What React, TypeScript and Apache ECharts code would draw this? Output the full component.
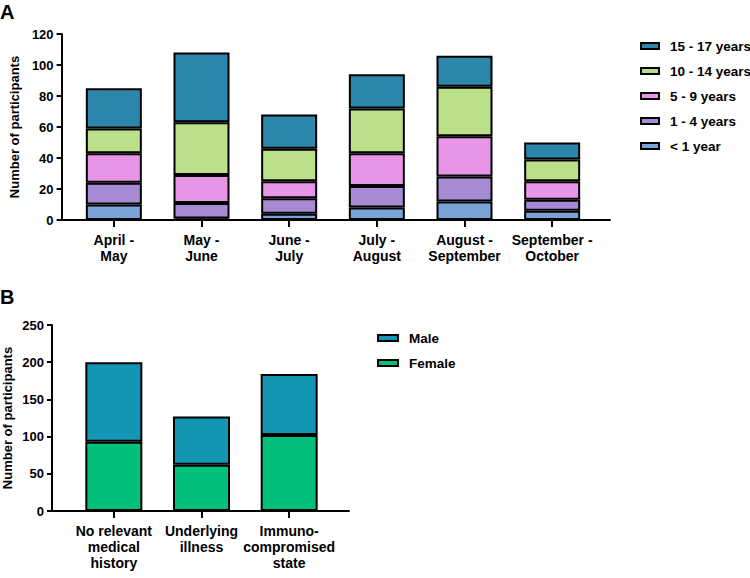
import React, { useEffect, useRef } from "react";
import * as echarts from "echarts";

const periods = ["April -\nMay", "May -\nJune", "June -\nJuly", "July -\nAugust", "August -\nSeptember", "September -\nOctober"];
const ageGroups = ["< 1 year", "1 - 4 years", "5 - 9 years", "10 - 14 years", "15 - 17 years"];
const under1 = [10, 1, 4, 8, 12, 6];
const age1to4 = [14, 10, 10, 14, 16, 7];
const age5to9 = [19, 18, 11, 21, 26, 12];
const age10to14 = [16, 34, 21, 29, 32, 14];
const age15to17 = [26, 45, 22, 22, 20, 11];
const ageColors = ["#7aa3d8", "#a68ad3", "#e895e8", "#bcdf8a", "#2d87ab"];

const histories = ["No relevant\nmedical\nhistory", "Underlying\nillness", "Immuno-\ncompromised\nstate"];
const female = [93, 62, 102];
const male = [107, 65, 82];
const sexColors = { Female: "#02c07a", Male: "#1596b4" };

const yTicksA = [0, 20, 40, 60, 80, 100, 120];
const yTicksB = [0, 50, 100, 150, 200, 250];

const FONT = "Liberation Sans, Arial, sans-serif";

export default function App() {
  const ref = useRef<HTMLDivElement>(null);
  useEffect(() => {
    if (!ref.current) return;
    const chart = echarts.init(ref.current, null, { renderer: "svg" });
    const ageData = [under1, age1to4, age5to9, age10to14, age15to17];
    const axisLineStyle = { color: "#000", width: 2 };
    const labelStyle = { color: "#000", fontWeight: "bold" as const, fontSize: 13, fontFamily: FONT };

    // data grids: 0 (A), 1 (B); frame grids: 2 (A), 3 (B)
    const catX = (gridIndex: number, cats: string[]) => ({
      type: "category",
      gridIndex,
      data: cats,
      axisLine: { show: false },
      axisTick: { show: true, alignWithLabel: true, length: 7, lineStyle: axisLineStyle },
      axisLabel: { ...labelStyle, fontSize: 14, margin: 12, lineHeight: 16, interval: 0 },
    });
    const hiddenY = (gridIndex: number, ticks: number[]) => ({
      type: "value",
      gridIndex,
      show: false,
      min: ticks[0],
      max: ticks[ticks.length - 1],
      interval: ticks[1] - ticks[0],
    });
    const frameX = (gridIndex: number) => ({
      type: "value",
      gridIndex,
      min: 0,
      max: 1,
      splitLine: { show: false },
      axisLine: { show: true, onZero: false, lineStyle: axisLineStyle },
      axisTick: { show: false },
      axisLabel: { show: false },
    });
    const frameY = (gridIndex: number, ticks: number[]) => ({
      type: "value",
      gridIndex,
      min: ticks[0],
      max: ticks[ticks.length - 1],
      interval: ticks[1] - ticks[0],
      name: "Number of participants",
      nameLocation: "middle",
      nameGap: 38,
      nameTextStyle: { ...labelStyle },
      splitLine: { show: false },
      axisLine: { show: true, onZero: false, lineStyle: axisLineStyle },
      axisTick: { show: true, length: 5, lineStyle: axisLineStyle },
      axisLabel: { ...labelStyle, margin: 8 },
    });
    const barBorder = { borderColor: "#000", borderWidth: 2 };
    const seriesA = ageGroups.map((name, s) => ({
      name,
      type: "bar",
      stack: "age",
      xAxisIndex: 0,
      yAxisIndex: 0,
      barWidth: 56,
      itemStyle: { color: ageColors[s], ...barBorder },
      data: ageData[s],
    }));
    const seriesB = [
      { name: "Female", values: female },
      { name: "Male", values: male },
    ].map((d) => ({
      name: d.name,
      type: "bar",
      stack: "sex",
      xAxisIndex: 1,
      yAxisIndex: 1,
      barWidth: 57,
      itemStyle: { color: (sexColors as any)[d.name], ...barBorder },
      data: d.values,
    }));
    const legendText = { ...labelStyle, fontSize: 13.5, lineHeight: 16, padding: [0, 0, 0, 6] };
    chart.setOption({
      animation: false,
      backgroundColor: "#fff",
      textStyle: { fontFamily: FONT },
      title: [
        { text: "A", left: 0, top: 2, padding: 0, textStyle: { fontSize: 20, fontWeight: "bold", color: "#000", fontFamily: FONT } },
        { text: "B", left: 0, top: 287, padding: 0, textStyle: { fontSize: 20, fontWeight: "bold", color: "#000", fontFamily: FONT } },
      ],
      legend: [
        {
          orient: "vertical",
          left: 640,
          top: 38,
          padding: 0,
          itemWidth: 18,
          itemHeight: 6,
          itemGap: 9,
          icon: "rect",
          itemStyle: { borderColor: "#000", borderWidth: 2 },
          textStyle: legendText,
          data: [...ageGroups].reverse(),
        },
        {
          orient: "vertical",
          left: 377,
          top: 330,
          padding: 0,
          itemWidth: 20,
          itemHeight: 6,
          itemGap: 9,
          icon: "rect",
          itemStyle: { borderColor: "#000", borderWidth: 2 },
          textStyle: legendText,
          data: ["Male", "Female"],
        },
      ],
      grid: [
        { left: 70, top: 34, width: 526, height: 186 },
        { left: 70, top: 325, width: 263, height: 186 },
        { left: 52, top: 34, width: 558, height: 186 },
        { left: 52, top: 325, width: 297, height: 186 },
      ],
      xAxis: [catX(0, periods), catX(1, histories), frameX(2), frameX(3)],
      yAxis: [hiddenY(0, yTicksA), hiddenY(1, yTicksB), frameY(2, yTicksA), frameY(3, yTicksB)],
      series: [...seriesA, ...seriesB],
    });
    return () => chart.dispose();
  }, []);
  return <div ref={ref} style={{ position: "fixed", left: 0, top: 0, width: 750, height: 578 }} />;
}
